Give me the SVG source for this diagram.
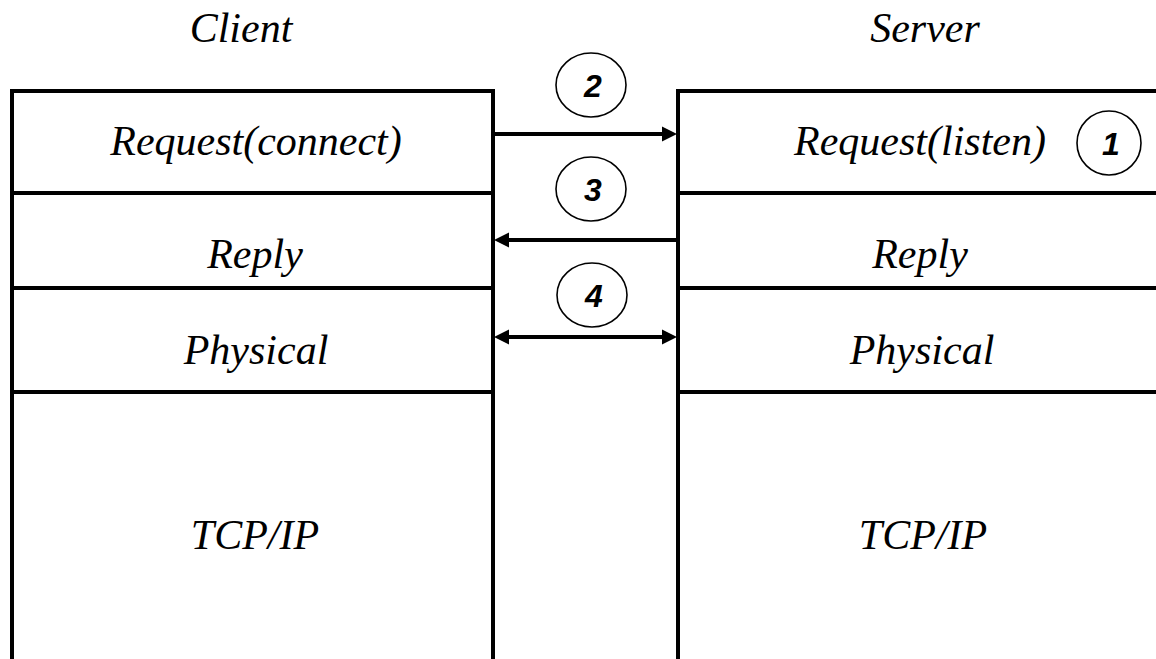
<svg xmlns="http://www.w3.org/2000/svg" width="1156" height="659" viewBox="0 0 1156 659">
  <style>
    .box { fill: none; stroke: #000; stroke-width: 4; }
    .lbl { font-family: "Liberation Serif", "Times New Roman", serif; font-style: italic; font-size: 42px; fill: #000; text-anchor: middle; }
    .num { font-family: "Liberation Sans", Arial, sans-serif; font-style: italic; font-weight: bold; font-size: 32px; fill: #000; text-anchor: middle; }
    .circ { fill: none; stroke: #000; stroke-width: 1.6; }
    .conn { stroke: #000; stroke-width: 4; fill: none; }
  </style>
  <defs>
    <marker id="ah" markerUnits="userSpaceOnUse" markerWidth="15" markerHeight="16" refX="4" refY="8" orient="auto-start-reverse">
      <path d="M0,0.5 L15,8 L0,15.5 z" fill="#000"/>
    </marker>
  </defs>
  <rect width="1156" height="659" fill="#fff"/>

  <g id="client">
    <text class="lbl" x="241" y="42">Client</text>
    <path class="box" d="M12,670 V91 H493 V670"/>
    <line class="box" x1="12" y1="193" x2="493" y2="193"/>
    <line class="box" x1="12" y1="288" x2="493" y2="288"/>
    <line class="box" x1="12" y1="392" x2="493" y2="392"/>
    <text class="lbl" x="256" y="155">Request(connect)</text>
    <text class="lbl" x="255" y="268">Reply</text>
    <text class="lbl" x="256" y="364">Physical</text>
    <text class="lbl" x="255" y="549">TCP/IP</text>
  </g>

  <g id="server">
    <text class="lbl" x="925" y="42">Server</text>
    <path class="box" d="M678,670 V91 H1170"/>
    <line class="box" x1="678" y1="193" x2="1170" y2="193"/>
    <line class="box" x1="678" y1="288" x2="1170" y2="288"/>
    <line class="box" x1="678" y1="392" x2="1170" y2="392"/>
    <text class="lbl" x="920" y="155">Request(listen)</text>
    <text class="lbl" x="920" y="268">Reply</text>
    <text class="lbl" x="922" y="364">Physical</text>
    <text class="lbl" x="923" y="549">TCP/IP</text>
  </g>

  <g id="step1">
    <ellipse class="circ" cx="1109" cy="143" rx="32" ry="32"/>
    <text class="num" x="1111" y="155">1</text>
  </g>
  <g id="step2">
    <ellipse class="circ" cx="591" cy="85" rx="35" ry="32"/>
    <text class="num" x="593" y="97">2</text>
  </g>
  <g id="step3">
    <ellipse class="circ" cx="591" cy="189" rx="35" ry="32"/>
    <text class="num" x="593" y="201">3</text>
  </g>
  <g id="step4">
    <ellipse class="circ" cx="592" cy="295" rx="35" ry="32"/>
    <text class="num" x="594" y="307">4</text>
  </g>

  <g id="connectors">
    <line class="conn" x1="494" y1="134" x2="666" y2="134" marker-end="url(#ah)"/>
    <line class="conn" x1="677" y1="240" x2="505" y2="240" marker-end="url(#ah)"/>
    <line class="conn" x1="505" y1="337" x2="666" y2="337" marker-start="url(#ah)" marker-end="url(#ah)"/>
  </g>
</svg>
